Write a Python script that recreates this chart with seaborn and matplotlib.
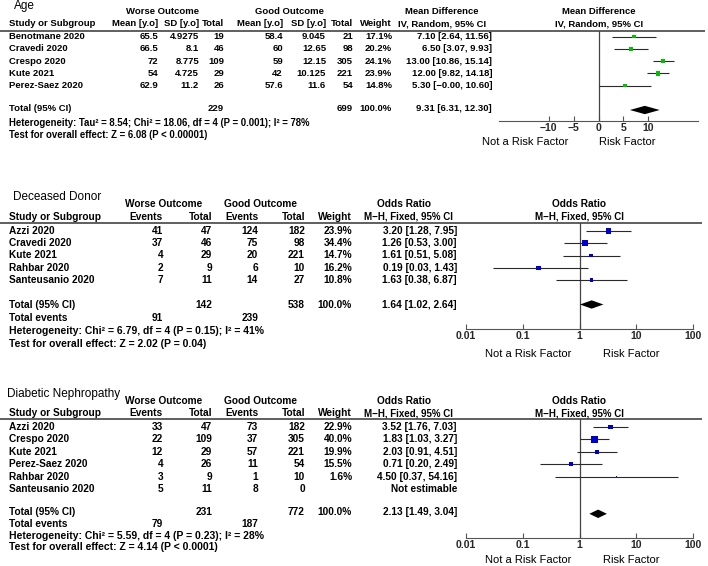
import numpy as np
import pandas as pd
import matplotlib
matplotlib.use("Agg")
import matplotlib.pyplot as plt
import seaborn as sns

# ---- Age (mean difference) ----
age_studies = ["Benotmane 2020", "Cravedi 2020", "Crespo 2020", "Kute 2021", "Perez-Saez 2020"]
age_worse_mean = [65.5, 66.5, 72, 54, 62.9]
age_worse_sd = [4.9275, 8.1, 8.775, 4.725, 11.2]
age_worse_n = [19, 46, 109, 29, 26]
age_good_mean = [58.4, 60, 59, 42, 57.6]
age_good_sd = [9.045, 12.65, 12.15, 10.125, 11.6]
age_good_n = [21, 98, 305, 221, 54]
age_weight = [17.1, 20.2, 24.1, 23.9, 14.8]
age_md = [7.10, 6.50, 13.00, 12.00, 5.30]
age_lo = [2.64, 3.07, 10.86, 9.82, -0.0]
age_hi = [11.56, 9.93, 15.14, 14.18, 10.60]
age_total = [9.31, 6.31, 12.30]
age_total_n = [229, 699]
age_het = "Heterogeneity: Tau² = 8.54; Chi² = 18.06, df = 4 (P = 0.001); I² = 78%"
age_test = "Test for overall effect: Z = 6.08 (P < 0.00001)"

# ---- Deceased donor (odds ratio) ----
dd_studies = ["Azzi 2020", "Cravedi 2020", "Kute 2021", "Rahbar 2020", "Santeusanio 2020"]
dd_worse_ev = [41, 37, 4, 2, 7]
dd_worse_n = [47, 46, 29, 9, 11]
dd_good_ev = [124, 75, 20, 6, 14]
dd_good_n = [182, 98, 221, 10, 27]
dd_weight = [23.9, 34.4, 14.7, 16.2, 10.8]
dd_or = [3.20, 1.26, 1.61, 0.19, 1.63]
dd_lo = [1.28, 0.53, 0.51, 0.03, 0.38]
dd_hi = [7.95, 3.00, 5.08, 1.43, 6.87]
dd_total = [1.64, 1.02, 2.64]
dd_total_n = [142, 538]
dd_total_ev = [91, 239]
dd_het = "Heterogeneity: Chi² = 6.79, df = 4 (P = 0.15); I² = 41%"
dd_test = "Test for overall effect: Z = 2.02 (P = 0.04)"

# ---- Diabetic nephropathy (odds ratio) ----
dn_studies = ["Azzi 2020", "Crespo 2020", "Kute 2021", "Perez-Saez 2020", "Rahbar 2020", "Santeusanio 2020"]
dn_worse_ev = [33, 22, 12, 4, 3, 5]
dn_worse_n = [47, 109, 29, 26, 9, 11]
dn_good_ev = [73, 37, 57, 11, 1, 8]
dn_good_n = [182, 305, 221, 54, 10, 0]
dn_weight = [22.9, 40.0, 19.9, 15.5, 1.6, np.nan]
dn_or = [3.52, 1.83, 2.03, 0.71, 4.50, np.nan]
dn_lo = [1.76, 1.03, 0.91, 0.20, 0.37, np.nan]
dn_hi = [7.03, 3.27, 4.51, 2.49, 54.16, np.nan]
dn_total = [2.13, 1.49, 3.04]
dn_total_n = [231, 772]
dn_total_ev = [79, 187]
dn_het = "Heterogeneity: Chi² = 5.59, df = 4 (P = 0.23); I² = 28%"
dn_test = "Test for overall effect: Z = 4.14 (P < 0.0001)"

or_ticks = [0.01, 0.1, 1, 10, 100]
md_ticks = [-10, -5, 0, 5, 10]

sns.set_theme(style="white")
plt.rcParams['font.family'] = ['Liberation Sans', 'DejaVu Sans']

W, H = 708, 566
fig = plt.figure(figsize=(W / 100, H / 100), dpi=100)
tab = fig.add_axes([0, 0, 1, 1])
tab.set_xlim(0, W)
tab.set_ylim(H, 0)
tab.axis('off')


def txt(x, y, s, ha='left', bold=True, size=6.8):
    tab.text(x, y, s, ha=ha, va='center', fontsize=size,
             fontweight='bold' if bold else 'normal', color='black')


def ci_str(e, lo, hi):
    s = f"{e:.2f} [{lo:.2f}, {hi:.2f}]"
    return s.replace('-', '\u2212')


def forest(x0, x1, ytop, ybot, row0, sp, est, lo, hi, w, total, color, scale, log):
    ax = fig.add_axes([x0 / W, 1 - ybot / H, (x1 - x0) / W, (ybot - ytop) / H])
    ax.set_facecolor('none')
    df = pd.DataFrame(dict(est=est, lo=lo, hi=hi, w=w, row=np.arange(len(est)))).dropna()
    ax.hlines(df['row'], df['lo'], df['hi'], color='#2a2a2a', lw=0.8, zorder=2)
    sns.scatterplot(data=df, x='est', y='row', size='w', sizes=(0, scale), size_norm=(0, 100),
                    marker='s', color=color, linewidth=0, legend=False, ax=ax, zorder=3)
    tr = len(est) + 1
    h = 0.34
    ax.fill([total[1], total[0], total[2], total[0]], [tr, tr - h, tr, tr + h], color='black', lw=0, zorder=3)
    if log:
        ax.set_xscale('log')
        ax.set_xlim(0.01, 100)
        ax.axvline(1, color='#444444', lw=0.9, zorder=1)
        ax.set_xticks(or_ticks)
        ax.set_xticklabels(['0.01', '0.1', '1', '10', '100'])
        ax.minorticks_off()
    else:
        ax.set_xlim(-20, 20)
        ax.axvline(0, color='#444444', lw=0.9, zorder=1)
        ax.set_xticks(md_ticks)
        ax.set_xticklabels(['\u221210', '\u22125', '0', '5', '10'])
    ax.set_ylim((ybot - row0) / sp, (ytop - row0) / sp)
    ax.set_yticks([])
    ax.set_xlabel('')
    ax.set_ylabel('')
    for s in ['top', 'right', 'left']:
        ax.spines[s].set_visible(False)
    ax.spines['bottom'].set_color('#555555')
    ax.spines['bottom'].set_linewidth(0.8)
    ax.tick_params(axis='x', direction='in', length=3.5, width=0.8, color='#555555',
                   labelsize=7.5, pad=1.5, bottom=True)
    for lbl in ax.get_xticklabels():
        lbl.set_fontweight('bold')
    return ax


# ================= Age =================
r0, sp = 36.5, 12.25
fs = 6.8
txt(14, 6, "Age", bold=False, size=8.5)
txt(163, 12, "Worse Outcome", ha='center', size=fs)
txt(289, 12, "Good Outcome", ha='center', size=fs)
txt(442, 12, "Mean Difference", ha='center', size=fs)
txt(599, 12, "Mean Difference", ha='center', size=fs)
hy = 24
txt(9, hy, "Study or Subgroup", size=fs)
for x, s in [(158, "Mean [y.o]"), (199, "SD [y.o]"), (224, "Total"),
             (283, "Mean [y.o]"), (326, "SD [y.o]"), (353, "Total"), (392, "Weight")]:
    txt(x, hy, s, ha='right', size=fs)
txt(442, hy, "IV, Random, 95% CI", ha='center', size=fs)
txt(599, hy, "IV, Random, 95% CI", ha='center', size=fs)
tab.hlines(31, 0, 705, color='#444444', lw=1.2)
for i, name in enumerate(age_studies):
    y = r0 + i * sp
    txt(9, y, name, size=fs)
    txt(158, y, f"{age_worse_mean[i]:g}", ha='right', size=fs)
    txt(199, y, f"{age_worse_sd[i]:g}", ha='right', size=fs)
    txt(224, y, f"{age_worse_n[i]}", ha='right', size=fs)
    txt(283, y, f"{age_good_mean[i]:g}", ha='right', size=fs)
    txt(326, y, f"{age_good_sd[i]:g}", ha='right', size=fs)
    txt(353, y, f"{age_good_n[i]}", ha='right', size=fs)
    txt(392, y, f"{age_weight[i]:.1f}%", ha='right', size=fs)
    txt(492, y, ci_str(age_md[i], age_lo[i], age_hi[i]), ha='right', size=fs)
ty = r0 + (len(age_studies) + 1) * sp - 1.5
txt(9, ty, "Total (95% CI)", size=fs)
txt(224, ty, str(age_total_n[0]), ha='right', size=fs)
txt(353, ty, str(age_total_n[1]), ha='right', size=fs)
txt(392, ty, "100.0%", ha='right', size=fs)
txt(492, ty, ci_str(*age_total), ha='right', size=fs)
txt(9, 123, age_het, size=6.9)
txt(9, 135, age_test, size=6.9)
forest(499, 698, 31, 121, r0, sp, age_md, age_lo, age_hi, age_weight, age_total,
       '#00c000', 45, log=False)
txt(525, 142, "Not a Risk Factor", ha='center', bold=False, size=8)
txt(627, 142, "Risk Factor", ha='center', bold=False, size=8)


# ================= OR panels =================
def or_panel(title, top, rule, r0, sp, studies, wev, wn, gev, gn, weight, est, lo, hi,
             total, total_n, total_ev, het, test, ty_, ey, hety, testy, axy, laby):
    fs = 7.3
    txt(13 if len(title) < 16 else 7, top, title, bold=False, size=8.5)
    txt(164, top + 7, "Worse Outcome", ha='center', size=fs)
    txt(260, top + 7, "Good Outcome", ha='center', size=fs)
    txt(404, top + 7, "Odds Ratio", ha='center', size=fs)
    txt(579, top + 7, "Odds Ratio", ha='center', size=fs)
    hy = top + 19.5
    txt(9, hy, "Study or Subgroup", size=fs)
    for x, s in [(163, "Events"), (212, "Total"), (258, "Events"), (305, "Total"), (352, "Weight")]:
        txt(x, hy, s, ha='right', size=fs)
    txt(408, hy, "M\u2212H, Fixed, 95% CI", ha='center', size=7.0)
    txt(579, hy, "M\u2212H, Fixed, 95% CI", ha='center', size=7.0)
    tab.hlines(rule, 0, 702, color='#444444', lw=1.2)
    for i, name in enumerate(studies):
        y = r0 + i * sp
        txt(9, y, name, size=fs)
        txt(163, y, str(wev[i]), ha='right', size=fs)
        txt(212, y, str(wn[i]), ha='right', size=fs)
        txt(258, y, str(gev[i]), ha='right', size=fs)
        txt(305, y, str(gn[i]), ha='right', size=fs)
        if np.isnan(est[i]):
            txt(457, y, "Not estimable", ha='right', size=fs)
        else:
            txt(352, y, f"{weight[i]:.1f}%", ha='right', size=fs)
            txt(457, y, ci_str(est[i], lo[i], hi[i]), ha='right', size=fs)
    txt(9, ty_, "Total (95% CI)", size=fs)
    txt(212, ty_, str(total_n[0]), ha='right', size=fs)
    txt(305, ty_, str(total_n[1]), ha='right', size=fs)
    txt(352, ty_, "100.0%", ha='right', size=fs)
    txt(457, ty_, ci_str(*total), ha='right', size=fs)
    txt(9, ey, "Total events", size=fs)
    txt(163, ey, str(total_ev[0]), ha='right', size=fs)
    txt(258, ey, str(total_ev[1]), ha='right', size=fs)
    txt(9, hety, het, size=7.5)
    txt(9, testy, test, size=7.5)
    forest(466, 693, rule, axy, r0, sp, est, lo, hi, weight, total, '#0000cc', 55, log=True)
    txt(528, laby, "Not a Risk Factor", ha='center', bold=False, size=8)
    txt(631, laby, "Risk Factor", ha='center', bold=False, size=8)


or_panel("Deceased Donor", 197, 223, 231, 12.25, dd_studies, dd_worse_ev, dd_worse_n,
         dd_good_ev, dd_good_n, dd_weight, dd_or, dd_lo, dd_hi, dd_total, dd_total_n,
         dd_total_ev, dd_het, dd_test, 304.5, 318, 331, 344, 329, 354)

or_panel("Diabetic Nephropathy", 394, 419, 427, 12.4, dn_studies, dn_worse_ev, dn_worse_n,
         dn_good_ev, dn_good_n, dn_weight, dn_or, dn_lo, dn_hi, dn_total, dn_total_n,
         dn_total_ev, dn_het, dn_test, 512, 524, 536, 547, 538, 560)

fig.savefig("out.png", dpi=100)
